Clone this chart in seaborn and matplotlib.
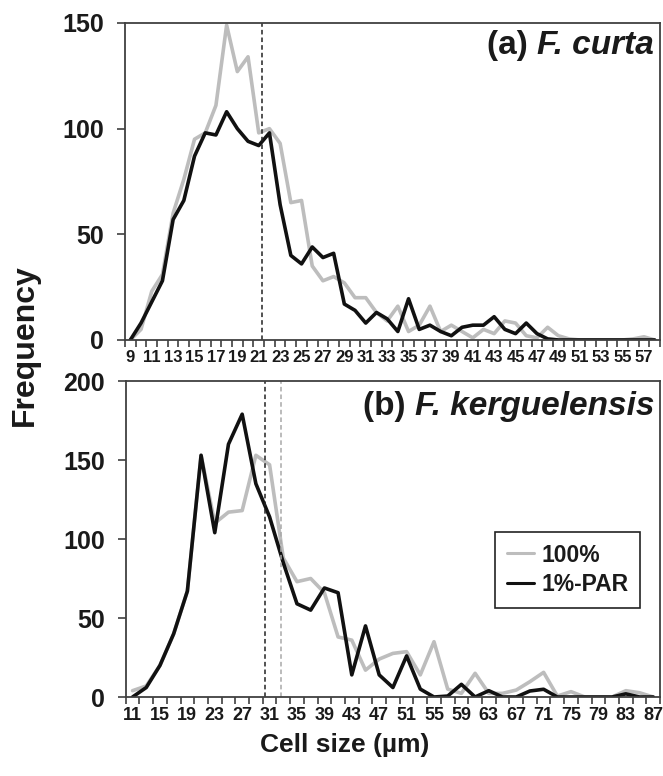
import numpy as np
import pandas as pd
import matplotlib
matplotlib.use("Agg")
import matplotlib.pyplot as plt
import seaborn as sns
from matplotlib.lines import Line2D

# ---------------- data ----------------
top_size = list(range(9, 59))
top_100 = [0, 5, 23, 31, 60, 76, 95, 98, 111, 149, 127, 134, 98, 100, 93, 65, 66, 35, 28, 30,
           27, 20, 20, 13, 9, 16, 4, 7, 16, 4, 7, 4, 1, 5, 3, 9, 8, 2, 1, 6,
           2, 0.5, 0, 0, 0, 0, 0, 0.5, 1.5, 0]
top_1 = [0, 8, 18, 28, 57, 66, 87, 98, 97, 108, 100, 94, 92, 98, 64, 40, 36, 44, 39, 41,
         17, 14, 8, 13, 10, 4, 19.5, 5, 7, 4, 2, 6, 7, 7, 11, 5, 3, 8, 3, 0.5,
         0, 0, 0, 0, 0, 0, 0, 0, 0, 0]

bot_size = list(range(11, 89, 2))
bot_100 = [4, 7, 20, 40, 67, 153, 110, 117, 118, 153, 147, 88, 73, 75, 66, 38, 36, 17, 24, 27.6,
           28.7, 14, 35, 5, 2.3, 15, 2.3, 2.3, 4.4, 9.7, 15.6, 0.6, 3.4, 0, 0, 0, 4, 2.7, 0]
bot_1 = [0, 6, 20, 40, 67, 153, 104, 160, 179, 135, 114, 85, 59, 55, 69, 66, 14, 45, 14, 6,
         26, 5, 0, 0.6, 8, 0, 4, 0, 0, 3.8, 4.9, 0, 0, 0, 0, 0, 2, 0, 0]

treatments = ["100%", "1%-PAR"]
top_mean = 21.3
bot_mean_1 = 30.4
bot_mean_100 = 32.7
top_ticklabels = list(range(9, 58, 2))
bot_ticklabels = list(range(11, 88, 4))

# ---------------- style ----------------
sns.set_theme(style="white")
plt.rcParams["font.family"] = ["Liberation Sans", "DejaVu Sans"]
plt.rcParams["font.weight"] = "bold"

GRAY = "#bdbdbd"
BLACK = "#111111"
SPINE = "#404040"
TXT = "#1a1a1a"
palette = {"100%": GRAY, "1%-PAR": BLACK}

def long_df(sizes, a, b):
    return pd.DataFrame({
        "size": list(sizes) * 2,
        "freq": list(a) + list(b),
        "treat": [treatments[0]] * len(sizes) + [treatments[1]] * len(sizes),
    })

df_top = long_df(top_size, top_100, top_1)
df_bot = long_df(bot_size, bot_100, bot_1)

fig = plt.figure(figsize=(6.63, 7.76), dpi=100)
ax1 = fig.add_axes([0.1885, 0.5619, 0.807, 0.4085])
ax2 = fig.add_axes([0.1896, 0.1018, 0.806, 0.4072])

for ax, df in ((ax1, df_top), (ax2, df_bot)):
    sns.lineplot(data=df, x="size", y="freq", hue="treat", hue_order=treatments,
                 palette=palette, linewidth=2.6, ax=ax, legend=False, sort=False)
    ax.set_xlabel("")
    ax.set_ylabel("")
    for s in ax.spines.values():
        s.set_visible(True)
        s.set_color(SPINE)
        s.set_linewidth(1.3)

ax1.set_xlim(8.5, 58.5)
ax1.set_ylim(0, 150)
ax1.set_xticks(np.arange(8.5, 59.0, 1.0))
ax1.set_xticklabels([])
ax1.set_xticks(top_ticklabels, minor=True)
ax1.set_xticklabels([str(v) for v in top_ticklabels], minor=True)
ax1.set_yticks([0, 50, 100, 150])

ax2.set_xlim(10, 88)
ax2.set_ylim(0, 200)
ax2.set_xticks(np.arange(10, 89, 2))
ax2.set_xticklabels([])
ax2.set_xticks(bot_ticklabels, minor=True)
ax2.set_xticklabels([str(v) for v in bot_ticklabels], minor=True)
ax2.set_yticks([0, 50, 100, 150, 200])

for ax, xls in ((ax1, 12), (ax2, 13)):
    ax.tick_params(axis="x", which="major", bottom=True, length=5, width=1.2,
                   color=SPINE, direction="out")
    ax.tick_params(axis="x", which="minor", bottom=True, length=0, pad=7,
                   labelsize=xls, labelcolor=TXT)
    ax.tick_params(axis="y", which="major", left=True, length=6, width=1.2,
                   color=SPINE, direction="out", labelsize=18, pad=9,
                   labelcolor=TXT)
    for lab in ax.get_xticklabels(minor=True) + ax.get_yticklabels():
        lab.set_fontweight("bold")

ax1.axvline(top_mean, color="#222222", lw=1.1, ls=(0, (3, 2)))
ax2.axvline(bot_mean_1, color="#222222", lw=1.1, ls=(0, (3, 2)))
ax2.axvline(bot_mean_100, color="#a8a8a8", lw=1.1, ls=(0, (3, 2)))

def panel_title(ax, tag, species, y, size):
    t = ax.text(0.989, y, species, transform=ax.transAxes, ha="right", va="center",
                fontsize=size, fontweight="bold", fontstyle="italic", color=TXT)
    fig.canvas.draw()
    bb = t.get_window_extent().transformed(ax.transAxes.inverted())
    ax.text(bb.x0, y, tag + " ", transform=ax.transAxes, ha="right", va="center",
            fontsize=size, fontweight="bold", color=TXT)

panel_title(ax1, "(a)", "F. curta", 0.93, 24)
panel_title(ax2, "(b)", "F. kerguelensis", 0.918, 24)

handles = [Line2D([0], [0], color=GRAY, lw=2.2), Line2D([0], [0], color=BLACK, lw=2.2)]
leg = ax2.legend(handles, treatments, loc="upper left", bbox_to_anchor=(0.692, 0.522),
                 borderaxespad=0, frameon=True, fancybox=False, edgecolor="#222222",
                 framealpha=1, handlelength=1.2, handletextpad=0.3, borderpad=0.5,
                 labelspacing=0.3, prop={"weight": "bold", "size": 16.5})
leg.get_frame().set_linewidth(1.2)
for t in leg.get_texts():
    t.set_color(TXT)

fig.text(0.038, 0.555, "Frequency", rotation=90, ha="center", va="center",
         fontsize=23, fontweight="bold", color=TXT)
fig.text(0.52, 0.04, "Cell size (µm)", ha="center", va="center",
         fontsize=19, fontweight="bold", color=TXT)

fig.savefig("out.png", dpi=100)
